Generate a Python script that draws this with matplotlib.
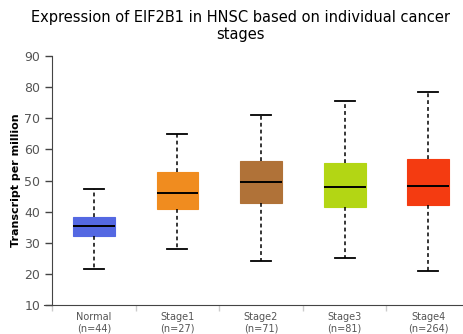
import matplotlib
matplotlib.use("Agg")
from matplotlib import pyplot as plt

# values
groups = ["Normal", "Stage1", "Stage2", "Stage3", "Stage4"]
counts = [44, 27, 71, 81, 264]
whislo = [21.5, 28.0, 24.0, 25.0, 20.9]
q1 = [32.2, 40.9, 42.9, 41.6, 42.2]
median = [35.4, 46.1, 49.4, 47.9, 48.2]
q3 = [38.3, 52.6, 56.2, 55.7, 56.8]
whishi = [47.4, 64.8, 71.0, 75.7, 78.3]
colors = ["#5468E2", "#F08C1F", "#B07238", "#B3D614", "#F43B11"]

fig = plt.figure(figsize=(4.63, 3.34), dpi=100)
ax = fig.add_axes([52 / 463, 29 / 334, 418 / 463, 249 / 334])

stats = []
for i in range(len(groups)):
    stats.append({"whislo": whislo[i], "q1": q1[i], "med": median[i],
                  "q3": q3[i], "whishi": whishi[i], "fliers": []})

bp = ax.bxp(stats, positions=range(len(groups)), widths=0.5, patch_artist=True,
            showfliers=False,
            medianprops=dict(color="black", linewidth=1.4),
            whiskerprops=dict(color="black", linewidth=1.1, linestyle=(0, (2.5, 2))),
            capprops=dict(color="black", linewidth=1.3),
            boxprops=dict(linewidth=0.8))
for patch, c in zip(bp["boxes"], colors):
    patch.set_facecolor(c)
    patch.set_edgecolor(c)
for cap in bp["caps"]:
    x = cap.get_xdata()
    mid = (x[0] + x[1]) / 2
    cap.set_xdata([mid - 0.12, mid + 0.12])

ax.set_xlim(-0.5, 4.5)
ax.set_ylim(10, 90)
ax.set_yticks(range(10, 91, 10))
ax.tick_params(axis="y", colors="#444444", labelsize=9, length=5, width=1,
               labelcolor="#555555")
ax.set_ylabel("Transcript per million", fontsize=8, fontweight="bold", labelpad=2)

ax.set_xticks([i - 0.5 for i in range(len(groups))], minor=False)
ax.set_xticklabels([])
ax.tick_params(axis="x", which="major", colors="#cccccc", length=4, width=1)
ax.set_xticks(range(len(groups)), minor=True)
ax.set_xticklabels(["%s\n(n=%d)" % (g, n) for g, n in zip(groups, counts)],
                   minor=True, fontsize=7, color="#555555")
ax.tick_params(axis="x", which="minor", length=0, pad=5)

ax.spines["top"].set_visible(False)
ax.spines["right"].set_visible(False)
ax.spines["left"].set_color("#444444")
ax.spines["bottom"].set_color("#444444")
ax.plot([-0.02, 0], [0, 0], transform=ax.transAxes, color="#444444",
        linewidth=0.8, clip_on=False)

fig.text(0.52, 0.97, "Expression of EIF2B1 in HNSC based on individual cancer\nstages",
         ha="center", va="top", fontsize=10.5, linespacing=1.15)

fig.savefig("out.png", dpi=100)
